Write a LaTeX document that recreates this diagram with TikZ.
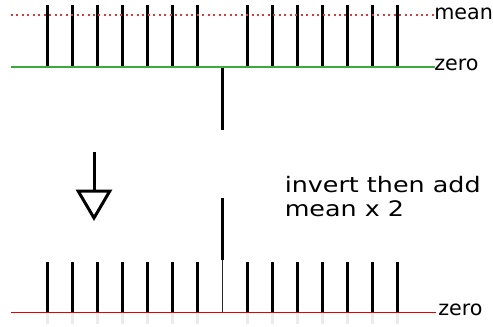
\documentclass[tikz,border=0pt]{standalone}
\usepackage{fontspec}
\setmainfont{DejaVu Sans}
\usepackage{graphicx}
\usetikzlibrary{arrows.meta,positioning}

\definecolor{meanred}{RGB}{215,60,60}
\definecolor{zerogreen}{RGB}{60,170,60}
\definecolor{zerored}{RGB}{235,0,0}

\begin{document}
\begin{tikzpicture}[
  x=0.75pt, y=-0.75pt,
  bar/.style={line width=2.25pt},
  thinbar/.style={line width=0.6pt, black!85},
  shade/.style={line width=2.25pt, black!8},
  lbl/.style={anchor=mid west, inner sep=0pt, font=\fontsize{15.5}{17}\selectfont},
  meanline/.style={meanred, line width=1.5pt, dash pattern=on 1.5pt off 2.6pt},
  zeroline/.style={line width=1.1pt},
  arr/.style={line width=2.25pt, -{Triangle[open, length=23.5pt, width=27pt]}}
]
\useasboundingbox (0,0) rectangle (493,327);

\coordinate (m0) at (11,15.5);
\coordinate (m1) at (435,15.5);
\coordinate (z0) at (11,67);
\coordinate (z1) at (435,67);
\coordinate (r0) at (11,312.3);
\coordinate (r1) at (436,312.3);

\foreach \x in {47,72,...,197,247,272,...,397}
  \draw[bar] (\x,5) -- (\x,67);
\draw[bar] (222,67) -- (222,130);

\draw[meanline] (m0) -- (m1);
\draw[zeroline, zerogreen] (z0) -- (z1);
\node[lbl] (mean) at (434,15.5) {mean};
\node[lbl] (zerotop) at (434,67) {zero};

\coordinate (arrtop) at (94,152);
\coordinate (arrtip) at (94,221);
\draw[arr] (arrtop) -- (arrtip);

\node[inner sep=0pt, anchor=base west, font=\fontsize{16}{17.9}\selectfont] (note) at (284.5,192.5)
  {\scalebox{1.19}[1]{\begin{tabular}[t]{@{}l@{}}invert then add\\ mean x 2\end{tabular}}};

\foreach \x in {47,72,...,197,247,272,...,397} {
  \draw[shade] (\x,313.5) -- (\x,324);
  \draw[bar] (\x,262) -- (\x,312);
}
\draw[bar] (222,198) -- (222,260);
\draw[thinbar] (222,260) -- (222,312);

\draw[zeroline, zerored] (r0) -- (r1);
\node[lbl] (zerobot) at (438,312.3) {zero};
\end{tikzpicture}
\end{document}
